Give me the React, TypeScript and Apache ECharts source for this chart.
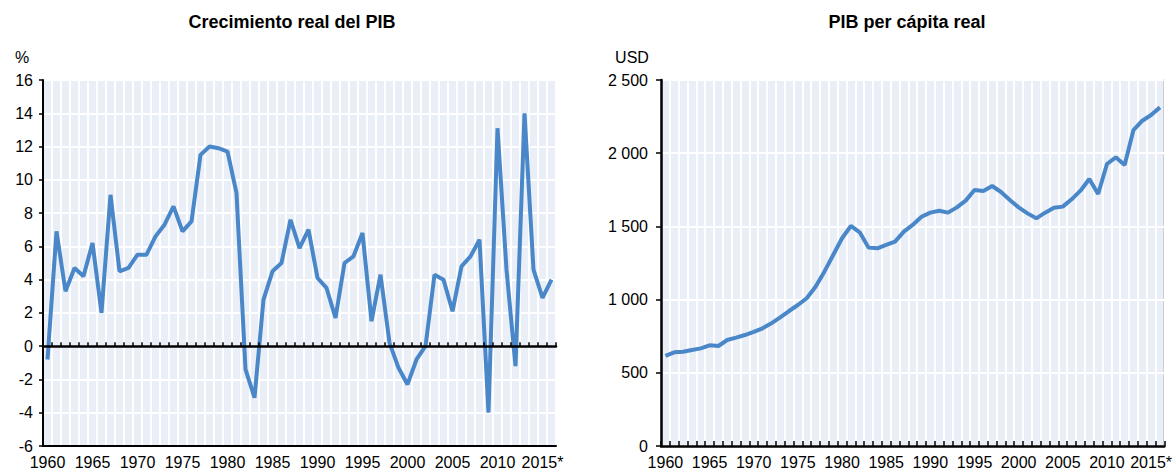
import React, { useEffect, useRef } from "react";
import * as echarts from "echarts";

const years: string[] = [
  "1960", "1961", "1962", "1963", "1964", "1965", "1966", "1967", "1968", "1969",
  "1970", "1971", "1972", "1973", "1974", "1975", "1976", "1977", "1978", "1979",
  "1980", "1981", "1982", "1983", "1984", "1985", "1986", "1987", "1988", "1989",
  "1990", "1991", "1992", "1993", "1994", "1995", "1996", "1997", "1998", "1999",
  "2000", "2001", "2002", "2003", "2004", "2005", "2006", "2007", "2008", "2009",
  "2010", "2011", "2012", "2013", "2014", "2015*", "2016",
];

// Crecimiento real del PIB (%)
const growth: number[] = [
  -0.8, 6.9, 3.3, 4.7, 4.2, 6.2, 2.0, 9.1, 4.5, 4.7,
  5.5, 5.5, 6.6, 7.3, 8.4, 6.9, 7.5, 11.5, 12.0, 11.9,
  11.7, 9.2, -1.4, -3.1, 2.8, 4.5, 5.0, 7.6, 5.9, 7.0,
  4.1, 3.5, 1.7, 5.0, 5.4, 6.8, 1.5, 4.3, 0.2, -1.3,
  -2.3, -0.8, 0.0, 4.3, 4.0, 2.1, 4.8, 5.4, 6.4, -4.0,
  13.1, 4.6, -1.2, 14.0, 4.6, 2.9, 4.0,
];

// PIB per cápita real (USD)
const gdpPerCapita: number[] = [
  615, 640, 644, 656, 667, 688, 683, 724, 740, 758,
  779, 804, 838, 879, 922, 963, 1009, 1088, 1191, 1305,
  1419, 1503, 1460, 1355, 1350, 1373, 1396, 1464, 1510, 1566,
  1594, 1607, 1594, 1630, 1676, 1749, 1742, 1776, 1735, 1680,
  1630, 1589, 1555, 1594, 1628, 1635, 1685, 1744, 1824, 1721,
  1926, 1972, 1919, 2158, 2222, 2261, 2313,
];

const leftTitle = "Crecimiento real del PIB";
const rightTitle = "PIB per cápita real";
const leftUnit = "%";
const rightUnit = "USD";

const FONT = "'Liberation Sans', Arial, sans-serif";
const TITLE_FONT = "'Liberation Sans', Arial, sans-serif";
const BG = "#e9eef7";
const LINE = "#4a87c9";

function fmtThousands(v: number): string {
  if (v >= 1000) {
    const th = Math.floor(v / 1000);
    const rest = String(v % 1000).padStart(3, "0");
    return th + " " + rest;
  }
  return String(v);
}

export default function App() {
  const ref = useRef<HTMLDivElement>(null);
  useEffect(() => {
    document.body.style.margin = "0";
    const chart = echarts.init(ref.current!, undefined, { renderer: "svg" });
    const labelStyle = { color: "#000", fontSize: 16, fontFamily: FONT };
    const option: any = {
      animation: false,
      grid: [
        { left: 43, top: 80, width: 513, height: 366, show: true, backgroundColor: BG, borderColor: "#000", borderWidth: 1 },
        { left: 661, top: 80, width: 507, height: 366, show: true, backgroundColor: BG, borderColor: "#000", borderWidth: 1 },
      ],
      xAxis: [
        {
          type: "category", gridIndex: 0, data: years, boundaryGap: true, position: "bottom",
          axisLine: { onZero: false, lineStyle: { color: "#000", width: 2 } },
          axisTick: { show: false },
          axisLabel: { ...labelStyle, interval: 4, margin: 8 },
          splitLine: { show: true, interval: 0, lineStyle: { color: "#fff", width: 2 } },
        },
        {
          type: "category", gridIndex: 0, data: years, boundaryGap: true, position: "bottom",
          axisLine: { onZero: true, lineStyle: { color: "#000", width: 2.5 } },
          axisTick: { show: true, inside: true, length: 4, interval: 0, lineStyle: { color: "#000", width: 1.5 } },
          axisLabel: { show: false },
          splitLine: { show: false },
          z: 5,
        },
        {
          type: "category", gridIndex: 1, data: years, boundaryGap: true, position: "bottom",
          axisLine: { onZero: false, lineStyle: { color: "#000", width: 2.5 } },
          axisTick: { show: true, inside: true, length: 5, interval: 0, lineStyle: { color: "#000", width: 1.5 } },
          axisLabel: { ...labelStyle, interval: 4, margin: 8 },
          splitLine: { show: true, interval: 0, lineStyle: { color: "#fff", width: 2 } },
        },
      ],
      yAxis: [
        {
          type: "value", gridIndex: 0, min: -6, max: 16, interval: 2,
          axisLine: { show: true, lineStyle: { color: "#000", width: 2 } },
          axisTick: { show: true, length: 4, lineStyle: { color: "#000", width: 1.5 } },
          axisLabel: { ...labelStyle, margin: 10 },
          splitLine: { show: true, lineStyle: { color: "#fff", width: 2 } },
        },
        {
          type: "value", gridIndex: 1, min: 0, max: 2500, interval: 500,
          axisLine: { show: true, lineStyle: { color: "#000", width: 2.5 } },
          axisTick: { show: true, length: 5, lineStyle: { color: "#000", width: 1.5 } },
          axisLabel: { ...labelStyle, margin: 13, formatter: (v: number) => fmtThousands(v) },
          splitLine: { show: true, lineStyle: { color: "#fff", width: 2 } },
        },
      ],
      graphic: [
        { type: "text", x: 292, y: 22, style: { text: leftTitle, textAlign: "center", textVerticalAlign: "middle", font: `bold 18px ${TITLE_FONT}`, fill: "#000" } },
        { type: "text", x: 907, y: 22, style: { text: rightTitle, textAlign: "center", textVerticalAlign: "middle", font: `bold 18px ${TITLE_FONT}`, fill: "#000" } },
        { type: "text", x: 22, y: 57, style: { text: leftUnit, textAlign: "center", textVerticalAlign: "middle", font: `16px ${FONT}`, fill: "#000" } },
        { type: "text", x: 632, y: 57, style: { text: rightUnit, textAlign: "center", textVerticalAlign: "middle", font: `16px ${FONT}`, fill: "#000" } },
      ],
      series: [
        {
          type: "line", xAxisIndex: 0, yAxisIndex: 0, data: growth, symbol: "none",
          lineStyle: { color: LINE, width: 4 }, z: 3,
        },
        {
          type: "line", xAxisIndex: 2, yAxisIndex: 1, data: gdpPerCapita, symbol: "none",
          lineStyle: { color: LINE, width: 4 }, z: 3,
        },
      ],
    };
    chart.setOption(option);
    return () => chart.dispose();
  }, []);
  return <div ref={ref} style={{ width: 1175, height: 470 }} />;
}
